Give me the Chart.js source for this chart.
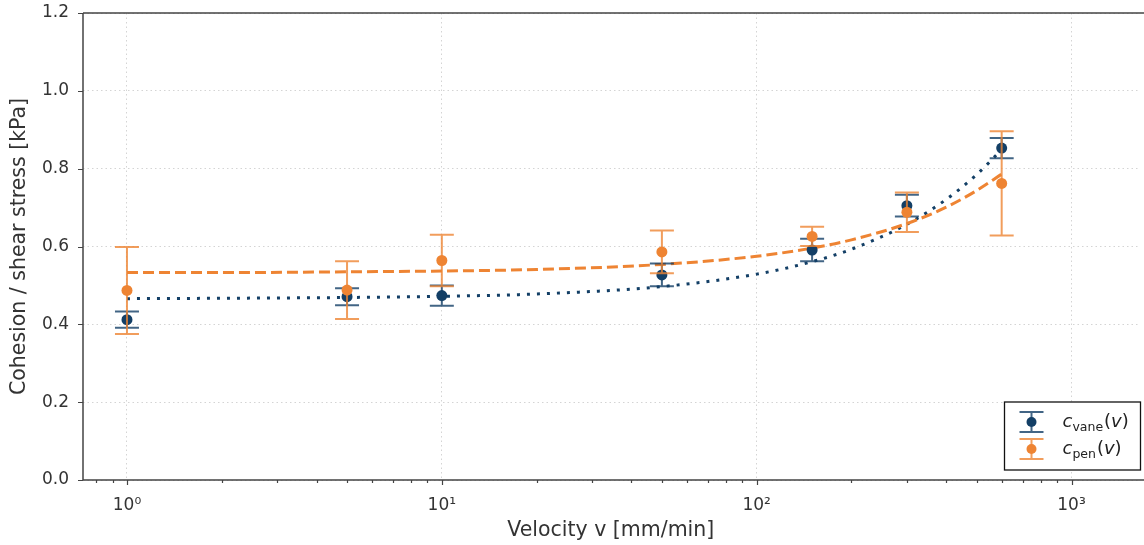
<!DOCTYPE html>
<html>
<head>
<meta charset="utf-8">
<script src="https://cdn.jsdelivr.net/npm/chart.js@4/dist/chart.umd.min.js"></script>
<style>
html,body{margin:0;padding:0;background:#fff;}
#kutu{width:1144px;height:545px;position:relative;}
</style>
</head>
<body>
<div id="kutu"><canvas id="grafik"></canvas></div>
<script>
// measured velocities [mm/min]
var hizlar = [1, 5, 10, 50, 150, 300, 600];
// vane test: mean and error
var cVane = [0.412, 0.471, 0.474, 0.527, 0.591, 0.705, 0.853];
var cVaneHata = [0.021, 0.022, 0.026, 0.029, 0.029, 0.028, 0.026];
// penetrometer: mean and error
var cPen = [0.487, 0.488, 0.564, 0.586, 0.626, 0.688, 0.762];
var cPenHata = [0.112, 0.074, 0.066, 0.055, 0.025, 0.051, 0.134];
// fitted curves
var egriHiz = [1, 2, 5, 10, 20, 50, 100, 150, 200, 300, 400, 500, 600];
var vaneEgri = [0.466, 0.467, 0.469, 0.472, 0.478, 0.497, 0.529, 0.561, 0.593, 0.657, 0.721, 0.785, 0.849];
var penEgri = [0.533, 0.533, 0.535, 0.537, 0.541, 0.554, 0.575, 0.596, 0.617, 0.659, 0.701, 0.744, 0.786];
// axis ticks
var xMajor = [1, 10, 100, 1000];
var xEtiket = ['10⁰', '10¹', '10²', '10³'];
var yTikler = [0, 0.2, 0.4, 0.6, 0.8, 1.0, 1.2];

var lacivert = '#133f66';
var turuncu = '#ee8433';
var yazi = '"DejaVu Sans", sans-serif';
var gridRenk = '#d4d4d4';
var xMin = 0.725, xMax = 1632;

function noktalar(xs, ys){
  return xs.map(function(x, i){ return {x: x, y: ys[i]}; });
}
function xTikDegerleri(){
  var d = [];
  for (var e = -1; e <= 3; e++) {
    for (var k = 1; k < 10; k++) {
      var v = k * Math.pow(10, e);
      if (e >= 0 && k == 1) v = xMajor[e];
      if (v >= xMin && v <= xMax) d.push(v);
    }
  }
  return d;
}
function renkAlfa(hex, a){
  var r = parseInt(hex.substr(1,2),16), g = parseInt(hex.substr(3,2),16), b = parseInt(hex.substr(5,2),16);
  return 'rgba('+r+','+g+','+b+','+a+')';
}

// error bars are drawn right before the points of the same series
function hataCiz(chart, ys, hata, renk){
  var ctx = chart.ctx, x = chart.scales.x, y = chart.scales.y;
  ctx.save();
  ctx.strokeStyle = renkAlfa(renk, 0.8);
  ctx.lineWidth = 2;
  for (var i = 0; i < hizlar.length; i++) {
    var px = x.getPixelForValue(hizlar[i]);
    var ust = y.getPixelForValue(ys[i] + hata[i]);
    var alt = y.getPixelForValue(ys[i] - hata[i]);
    ctx.beginPath();
    ctx.moveTo(px, ust); ctx.lineTo(px, alt);
    ctx.moveTo(px - 12, ust); ctx.lineTo(px + 12, ust);
    ctx.moveTo(px - 12, alt); ctx.lineTo(px + 12, alt);
    ctx.stroke();
  }
  ctx.restore();
}

var hataBar = {
  id: 'hataBar',
  beforeDatasetDraw: function(chart, args){
    if (args.index == 2) hataCiz(chart, cVane, cVaneHata, lacivert);
    if (args.index == 3) hataCiz(chart, cPen, cPenHata, turuncu);
  }
};

// spines and tick marks
var eksenler = {
  id: 'eksenler',
  afterDraw: function(chart){
    var ctx = chart.ctx, a = chart.chartArea, x = chart.scales.x, y = chart.scales.y;
    ctx.save();
    ctx.strokeStyle = '#444';
    ctx.lineWidth = 1.5;
    ctx.beginPath();
    ctx.moveTo(a.left, a.top); ctx.lineTo(a.right + 8, a.top);
    ctx.moveTo(a.left, a.top); ctx.lineTo(a.left, a.bottom);
    ctx.lineTo(a.right + 8, a.bottom);
    ctx.stroke();
    ctx.lineWidth = 1.2;
    ctx.beginPath();
    yTikler.forEach(function(v){
      var py = Math.round(y.getPixelForValue(v)) + 0.5;
      ctx.moveTo(a.left - 5, py); ctx.lineTo(a.left, py);
    });
    xTikDegerleri().forEach(function(v){
      var px = Math.round(x.getPixelForValue(v)) + 0.5;
      var boy = xMajor.indexOf(v) >= 0 ? 5 : 3;
      ctx.moveTo(px, a.bottom); ctx.lineTo(px, a.bottom + boy);
    });
    ctx.stroke();
    ctx.restore();
  }
};

function mathYaz(ctx, x, yb, alt){
  ctx.font = 'italic 18px ' + yazi;
  ctx.fillText('c', x, yb);
  x += ctx.measureText('c').width;
  ctx.font = '12.5px ' + yazi;
  ctx.fillText(alt, x, yb + 4);
  x += ctx.measureText(alt).width + 1;
  ctx.font = '18px ' + yazi;
  ctx.fillText('(', x, yb);
  x += ctx.measureText('(').width;
  ctx.font = 'italic 18px ' + yazi;
  ctx.fillText('v', x, yb);
  x += ctx.measureText('v').width;
  ctx.font = '18px ' + yazi;
  ctx.fillText(')', x, yb);
}

var aciklama = {
  id: 'aciklama',
  afterDraw: function(chart){
    var ctx = chart.ctx, a = chart.chartArea;
    var sag = a.right + 2, alt = a.bottom - 10;
    var sol = sag - 136, ust = alt - 68;
    ctx.save();
    ctx.fillStyle = '#fff';
    ctx.fillRect(sol, ust, sag - sol, alt - ust);
    ctx.strokeStyle = '#111';
    ctx.lineWidth = 1.3;
    ctx.strokeRect(sol, ust, sag - sol, alt - ust);
    var girdiler = [['vane', lacivert], ['pen', turuncu]];
    girdiler.forEach(function(g, i){
      var cy = ust + 20 + i * 27, cx = sol + 27;
      ctx.strokeStyle = renkAlfa(g[1], 0.8);
      ctx.lineWidth = 2;
      ctx.beginPath();
      ctx.moveTo(cx, cy - 10); ctx.lineTo(cx, cy + 10);
      ctx.moveTo(cx - 12, cy - 10); ctx.lineTo(cx + 12, cy - 10);
      ctx.moveTo(cx - 12, cy + 10); ctx.lineTo(cx + 12, cy + 10);
      ctx.stroke();
      ctx.fillStyle = g[1];
      ctx.beginPath();
      ctx.arc(cx, cy, 5, 0, Math.PI * 2);
      ctx.fill();
      ctx.fillStyle = '#222';
      ctx.textBaseline = 'alphabetic';
      mathYaz(ctx, sol + 58, cy + 5, g[0]);
    });
    ctx.restore();
  }
};

new Chart(document.getElementById('grafik'), {
  type: 'scatter',
  data: {
    datasets: [
      {type: 'line', data: noktalar(egriHiz, vaneEgri), borderColor: lacivert, borderWidth: 3,
       borderDash: [3, 7], pointRadius: 0, cubicInterpolationMode: 'monotone', order: 3},
      {type: 'line', data: noktalar(egriHiz, penEgri), borderColor: turuncu, borderWidth: 3,
       borderDash: [11, 5], pointRadius: 0, cubicInterpolationMode: 'monotone', order: 2},
      {data: noktalar(hizlar, cVane), backgroundColor: lacivert, borderWidth: 0, pointRadius: 5.5, order: 1},
      {data: noktalar(hizlar, cPen), backgroundColor: turuncu, borderWidth: 0, pointRadius: 5.5, order: 0}
    ]
  },
  options: {
    responsive: true,
    maintainAspectRatio: false,
    animation: false,
    devicePixelRatio: 1,
    layout: {padding: {top: 13, right: 0, left: 0, bottom: 0}},
    plugins: {legend: {display: false}, tooltip: {enabled: false}},
    scales: {
      x: {
        type: 'logarithmic', min: xMin, max: xMax, bounds: 'data',
        afterBuildTicks: function(s){
          s.ticks = xTikDegerleri().map(function(v){ return {value: v}; });
        },
        afterFit: function(s){ s.height = 65; s.paddingLeft = 0; s.paddingRight = 0; },
        ticks: {autoSkip: false, maxRotation: 0, padding: 15, color: '#333',
          font: {family: yazi, size: 17},
          callback: function(v){ var i = xMajor.indexOf(v); return i >= 0 ? xEtiket[i] : ''; }},
        grid: {drawTicks: false, lineWidth: 1,
          color: function(c){ return c.tick && xMajor.indexOf(c.tick.value) >= 0 ? gridRenk : 'rgba(0,0,0,0)'; }},
        border: {display: false, dash: [1.5, 3]},
        title: {display: true, text: 'Velocity v [mm/min]', color: '#333',
          font: {family: yazi, size: 20.5}, padding: {top: 0, bottom: 2}}
      },
      y: {
        min: 0, max: 1.2, bounds: 'data',
        afterBuildTicks: function(s){
          s.ticks = yTikler.map(function(v){ return {value: v}; });
        },
        afterFit: function(s){ s.width = 83; s.paddingTop = 0; s.paddingBottom = 0; },
        ticks: {padding: 14, color: '#333', font: {family: yazi, size: 17},
          callback: function(v){ return v.toFixed(1); }},
        grid: {drawTicks: false, lineWidth: 1, color: gridRenk},
        border: {display: false, dash: [1.5, 3]},
        title: {display: true, text: 'Cohesion / shear stress [kPa]', color: '#333',
          font: {family: yazi, size: 20.5}, padding: {top: 7, bottom: 0}}
      }
    }
  },
  plugins: [hataBar, eksenler, aciklama]
});
</script>
</body>
</html>
